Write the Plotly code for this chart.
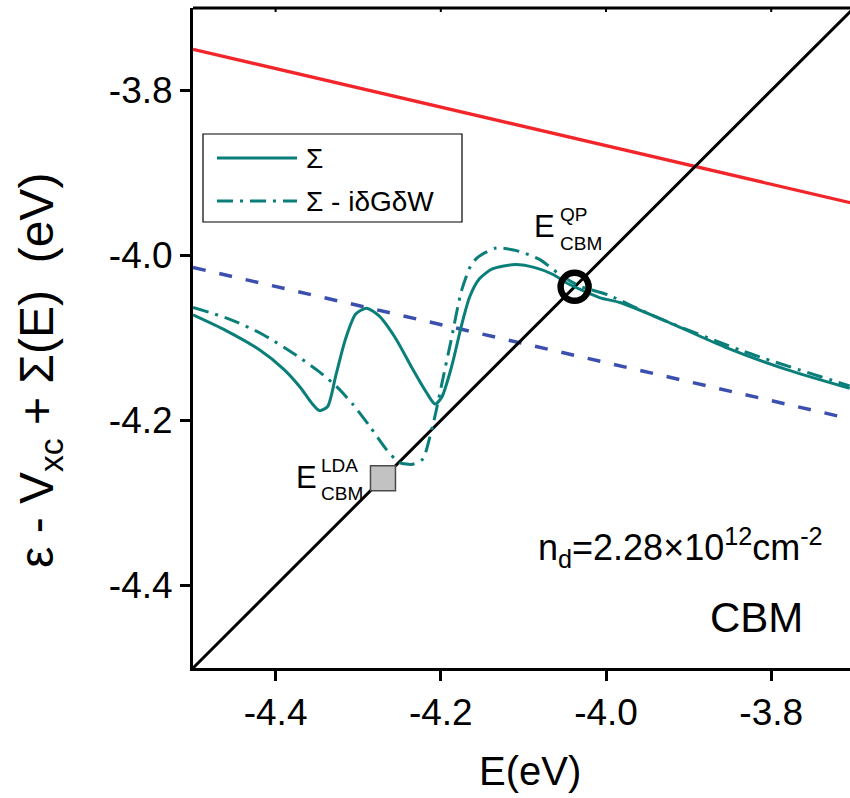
import plotly.graph_objects as go

# ---- data (eV) ----
# quasiparticle equation: straight lines
diag_x = [-4.5, -3.70]
diag_y = [-4.5, -3.70]

red_x = [-4.5, -3.70]
red_y = [-3.750, -3.937]

blue_x = [-4.5, -3.70]
blue_y = [-4.0145, -4.199]

# epsilon - Vxc + Sigma(E), full self-energy
sig_x = [-4.500, -4.460, -4.420, -4.390, -4.370, -4.357, -4.347, -4.337, -4.327,
         -4.315, -4.303, -4.290, -4.275, -4.255, -4.235, -4.218, -4.207, -4.199,
         -4.187, -4.175, -4.165, -4.153, -4.137, -4.110, -4.085, -4.064, -4.048,
         -4.008, -3.983, -3.931, -3.856, -3.782, -3.705]
sig_y = [-4.072, -4.091, -4.114, -4.138, -4.160, -4.178, -4.188, -4.183, -4.145,
         -4.100, -4.071, -4.064, -4.073, -4.100, -4.136, -4.165, -4.180, -4.172,
         -4.135, -4.085, -4.050, -4.028, -4.016, -4.011, -4.015, -4.023, -4.033,
         -4.051, -4.057, -4.078, -4.111, -4.138, -4.161]

# Sigma with the i dG dW term removed
sigv_x = [-4.500, -4.456, -4.415, -4.375, -4.347, -4.326, -4.306, -4.286, -4.266,
          -4.250, -4.234, -4.222, -4.212, -4.206, -4.198, -4.188, -4.175, -4.164,
          -4.155, -4.133, -4.105, -4.080, -4.056, -4.032, -3.997, -3.943, -3.834,
          -3.705]
sigv_y = [-4.063, -4.077, -4.096, -4.121, -4.141, -4.159, -4.181, -4.207, -4.235,
          -4.251, -4.253, -4.247, -4.215, -4.190, -4.152, -4.105, -4.043, -4.013,
          -4.002, -3.991, -3.995, -4.005, -4.023, -4.037, -4.048, -4.073, -4.116,
          -4.158]

# band-edge solutions
e_lda = -4.27
e_qp = -4.038

x_ticks = [-4.4, -4.2, -4.0, -3.8]
y_ticks = [-4.4, -4.2, -4.0, -3.8]
x_range = [-4.5, -3.7046]
y_range = [-4.5, -3.7]

leg_names = ["Σ", "Σ - iδGδW"]

# ---- styling ----
W, H = 850, 798
ML, MR, MT, MB = 193, 0, 8, 130
FONT = "Liberation Sans, Arial, sans-serif"
TEAL = "#0a7f7a"
BLUE = "#3b4fae"
RED = "#f2252b"


def px(xp):
    return (xp - ML) / (W - ML - MR)


def py(yp):
    return (H - MB - yp) / (H - MT - MB)


fig = go.Figure()

fig.add_trace(go.Scatter(x=red_x, y=red_y, mode="lines",
                         line=dict(color=RED, width=3.3), showlegend=False))
fig.add_trace(go.Scatter(x=blue_x, y=blue_y, mode="lines",
                         line=dict(color=BLUE, width=3.5, dash="13px,14px"),
                         showlegend=False))
fig.add_trace(go.Scatter(x=diag_x, y=diag_y, mode="lines",
                         line=dict(color="black", width=3), showlegend=False))
fig.add_trace(go.Scatter(x=sigv_x, y=sigv_y, mode="lines", name=leg_names[1],
                         line=dict(color=TEAL, width=3, dash="16px,7px,3px,7px",
                                   shape="spline", smoothing=0.7),
                         showlegend=False))
fig.add_trace(go.Scatter(x=sig_x, y=sig_y, mode="lines", name=leg_names[0],
                         line=dict(color=TEAL, width=3, shape="spline", smoothing=0.7),
                         showlegend=False))
fig.add_trace(go.Scatter(x=[e_lda], y=[e_lda], mode="markers",
                         marker=dict(symbol="square", size=25, color="#c2c2c2",
                                     line=dict(color="#4a4a4a", width=1.5)),
                         showlegend=False))
fig.add_trace(go.Scatter(x=[e_qp], y=[e_qp], mode="markers",
                         marker=dict(symbol="circle-open", size=28,
                                     color="black", line=dict(color="black", width=6.5)),
                         showlegend=False))

axis_common = dict(showgrid=False, zeroline=False, showline=True, linecolor="black",
                   linewidth=3, ticks="outside", ticklen=10, tickwidth=3,
                   tickcolor="black", mirror=False,
                   tickfont=dict(family=FONT, size=37, color="black"))

fig.update_layout(
    width=W, height=H,
    margin=dict(l=ML, r=MR, t=MT, b=MB),
    paper_bgcolor="white", plot_bgcolor="white",
    xaxis=dict(range=x_range, tickvals=x_ticks, ticktext=[f"{v:.1f}" for v in x_ticks],
               **axis_common),
    yaxis=dict(range=y_range, tickvals=y_ticks, ticktext=[f"{v:.1f}" for v in y_ticks],
               **axis_common),
    showlegend=False,
)

ann = []
# axis titles
ann.append(dict(text="E(eV)", xref="paper", yref="paper", x=px(530), y=py(771),
                xanchor="center", yanchor="middle", showarrow=False,
                font=dict(family=FONT, size=40, color="black")))
ann.append(dict(text="ε - V<sub>xc</sub> + Σ(E)\u00a0\u00a0(eV)", xref="paper", yref="paper",
                x=px(40), y=py(371), xanchor="center", yanchor="middle",
                textangle=-90, showarrow=False,
                font=dict(family=FONT, size=48, color="black")))

# band-edge labels
def elabel(xe, yc, sup, sub, ysup, ysub, xs):
    ann.append(dict(text="E", xref="paper", yref="paper", x=px(xe), y=py(yc),
                    xanchor="right", yanchor="middle", showarrow=False,
                    font=dict(family=FONT, size=31, color="black")))
    ann.append(dict(text=sup, xref="paper", yref="paper", x=px(xs), y=py(ysup),
                    xanchor="left", yanchor="middle", showarrow=False,
                    font=dict(family=FONT, size=19, color="black")))
    ann.append(dict(text=sub, xref="paper", yref="paper", x=px(xs), y=py(ysub),
                    xanchor="left", yanchor="middle", showarrow=False,
                    font=dict(family=FONT, size=19, color="black")))

elabel(319, 477, "LDA", "CBM", 465, 493, 319)
elabel(557, 226, "QP", "CBM", 215, 243, 558)

ann.append(dict(text="n<sub>d</sub>=2.28×10<sup>12</sup>cm<sup>-2</sup>",
                xref="paper", yref="paper", x=px(825), y=py(547),
                xanchor="right", yanchor="middle", showarrow=False,
                font=dict(family=FONT, size=36, color="black")))
ann.append(dict(text="CBM", xref="paper", yref="paper", x=px(756), y=py(617),
                xanchor="center", yanchor="middle", showarrow=False,
                font=dict(family=FONT, size=42, color="black")))

# legend
leg_x0, leg_x1, leg_y0, leg_y1 = 203, 462, 134, 222
sample_x0, sample_x1 = 217, 297
rows = [158, 201]
dashes = ["solid", "16px,7px,3px,7px"]
shapes = [dict(type="rect", xref="paper", yref="paper",
               x0=px(leg_x0), x1=px(leg_x1), y0=py(leg_y1), y1=py(leg_y0),
               line=dict(color="black", width=1.2), fillcolor="white", layer="above")]
for name, yr, d in zip(leg_names, rows, dashes):
    shapes.append(dict(type="line", xref="paper", yref="paper",
                       x0=px(sample_x0), x1=px(sample_x1), y0=py(yr), y1=py(yr),
                       line=dict(color=TEAL, width=3, dash=d), layer="above"))
    ann.append(dict(text=name, xref="paper", yref="paper", x=px(304), y=py(yr),
                    xanchor="left", yanchor="middle", showarrow=False,
                    font=dict(family=FONT, size=28, color="black")))

# top frame line with short inward ticks
shapes.append(dict(type="line", xref="paper", yref="paper", x0=0, x1=1, y0=1, y1=1,
                   line=dict(color="black", width=3), layer="above"))
for t in x_ticks:
    shapes.append(dict(type="line", xref="x", yref="paper", x0=t, x1=t,
                       y0=1, y1=1 - 4 / (H - MT - MB),
                       line=dict(color="black", width=2), layer="above"))

fig.update_layout(annotations=ann, shapes=shapes)

fig.write_html("out.html")
